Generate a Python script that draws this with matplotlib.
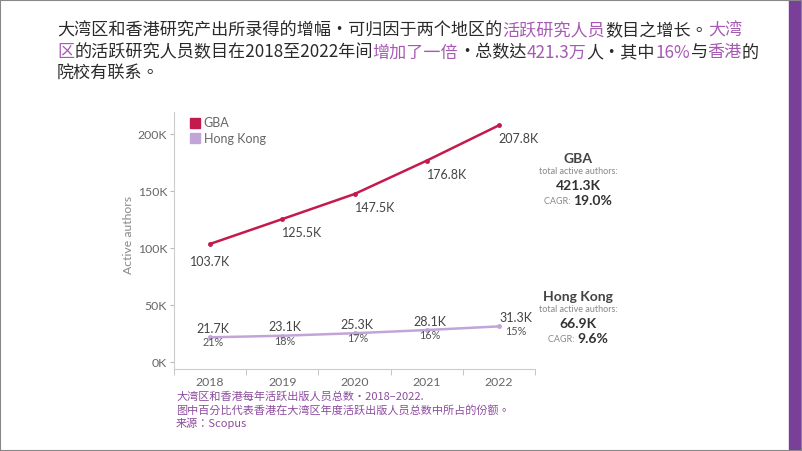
import matplotlib
matplotlib.use("Agg")
import matplotlib.pyplot as plt
from matplotlib.patches import Rectangle
from matplotlib.lines import Line2D

# active authors per year (thousands)
years = ["2018", "2019", "2020", "2021", "2022"]
gba = [103.7, 125.5, 147.5, 176.8, 207.8]
hk = [21.7, 23.1, 25.3, 28.1, 31.3]
hk_share = ["21%", "18%", "17%", "16%", "15%"]
yticks = [0, 50, 100, 150, 200]

GBA_C = "#c41a4e"
HK_C = "#c2a5d8"
HI = "#a75ab4"
DARK = "#2a2a2a"
GREY = "#666666"
NOTE = "#8d4c9f"

cjk = ["Noto Sans CJK TC", "DejaVu Sans"]
lat = ["Lato", "DejaVu Sans"]

fig = plt.figure(figsize=(8.02, 4.51), dpi=100)
W, H = 802, 451

# heading, mixed colours
heading = [
    [("大湾区和香港研究产出所录得的增幅·可归因于两个地区的", DARK), ("活跃研究人员", HI),
     ("数目之增长。", DARK), ("大湾", HI)],
    [("区", HI), ("的活跃研究人员数目在2018至2022年间", DARK), ("增加了一倍", HI),
     ("·总数达", DARK), ("421.3万", HI), ("人·其中", DARK), ("16%", HI), ("与", DARK),
     ("香港", HI), ("的", DARK)],
    [("院校有联系。", DARK)],
]
renderer = fig.canvas.get_renderer()
for i, parts in enumerate(heading):
    x = 57 / W
    y = 1 - (31 + i * 21.5) / H
    for s, c in parts:
        t = fig.text(x, y, s, color=c, fontsize=12.3, family=cjk, va="center", ha="left")
        bb = t.get_window_extent(renderer)
        x += bb.width / W

ax = fig.add_axes([174 / W, 1 - 369 / H, (535 - 174) / W, (369 - 112) / H])
xs = range(len(years))
ax.plot(xs, gba, color=GBA_C, lw=1.8, marker="o", ms=2.5)
ax.plot(xs, hk, color=HK_C, lw=1.8, marker="o", ms=2.5)

ax.set_xlim(-0.5, 4.5)
ax.set_ylim(-6.1, 219.5)
ax.set_yticks(yticks)
ax.set_yticklabels([f"{v}K" for v in yticks], family=lat, fontsize=8.8, color=GREY)
ax.set_xticks(list(xs))
ax.set_xticklabels(years, family=lat, fontsize=8.8, color=GREY)
ax.set_xticks([i + 0.5 for i in range(-1, 5)], minor=True)
ax.tick_params(axis="x", which="major", length=0, pad=6)
ax.tick_params(axis="x", which="minor", length=4, color="#bbbbbb", direction="out")
ax.tick_params(axis="y", length=3, color="#bbbbbb", pad=2)
for s in ["top", "right"]:
    ax.spines[s].set_visible(False)
for s in ["left", "bottom"]:
    ax.spines[s].set_color("#cccccc")
ax.set_ylabel("Active authors", family=lat, fontsize=8.8, color="#888888", labelpad=5)
ax.yaxis.set_label_coords(-0.11, 0.52)

# GBA labels
for i, v in enumerate(gba):
    if i == 0:
        ax.annotate(f"{v}K", (i, v), xytext=(0, -13), textcoords="offset points",
                    ha="center", va="center", family=lat, fontsize=9, color="#444444")
    else:
        ax.annotate(f"{v}K", (i, v), xytext=(0, -10), textcoords="offset points",
                    ha="left", va="center", family=lat, fontsize=9, color="#444444")
# HK labels
for i, (v, p) in enumerate(zip(hk, hk_share)):
    dx = 12 if i == 4 else 2
    ax.annotate(f"{v}K", (i, v), xytext=(dx, 6), textcoords="offset points",
                ha="center", va="center", family=lat, fontsize=9, color="#444444")
    ax.annotate(p, (i, v), xytext=(dx, -4), textcoords="offset points",
                ha="center", va="center", family=lat, fontsize=7.8, color="#555555")

# legend
handles = [Line2D([], [], ls="none", marker="s", ms=7, color=GBA_C),
           Line2D([], [], ls="none", marker="s", ms=7, color=HK_C)]
leg = ax.legend(handles, ["GBA", "Hong Kong"], loc="upper left", bbox_to_anchor=(0.02, 1.01),
                frameon=False, handletextpad=0.2, labelspacing=0.3, borderaxespad=0.2,
                handlelength=1.0, prop={"family": lat, "size": 9})
for t in leg.get_texts():
    t.set_color(GREY)

# side summaries
cx = 578 / W
def side(y0, name, total, cagr):
    fig.text(cx, 1 - y0 / H, name, ha="center", va="center", family=lat, fontsize=10,
             fontweight="bold", color="#444444")
    fig.text(cx, 1 - (y0 + 13) / H, "total active authors:", ha="center", va="center",
             family=lat, fontsize=6.5, color="#888888")
    fig.text(cx, 1 - (y0 + 27) / H, total, ha="center", va="center", family=lat, fontsize=10,
             fontweight="bold", color="#333333")
    t1 = fig.text(cx, 1 - (y0 + 42) / H, "CAGR: ", ha="right", va="center", family=lat,
                  fontsize=6.5, color="#888888")
    t2 = fig.text(cx, 1 - (y0 + 42) / H, cagr, ha="left", va="center", family=lat,
                  fontsize=10, fontweight="bold", color="#333333")
    w1 = t1.get_window_extent(renderer).width
    w2 = t2.get_window_extent(renderer).width
    shift = (w1 - w2) / 2 / W
    t1.set_x(cx + shift)
    t2.set_x(cx + shift)

side(159, "GBA", "421.3K", "19.0%")
side(297, "Hong Kong", "66.9K", "9.6%")

# footnote
fig.text(176 / W, 1 - 397 / H, "大湾区和香港每年活跃出版人员总数·2018–2022.", family=cjk,
         fontsize=8, color=NOTE, va="center")
fig.text(176 / W, 1 - 410 / H, "图中百分比代表香港在大湾区年度活跃出版人员总数中所占的份额。", family=cjk,
         fontsize=8, color=NOTE, va="center")
fig.text(176 / W, 1 - 423 / H, "来源：Scopus", family=cjk, fontsize=8, color=NOTE,
         va="center", style="italic")

# right purple bar and frame
fig.patches.append(Rectangle((789 / W, 0), 11 / W, 1, transform=fig.transFigure,
                             color="#7a3f98", zorder=0))
fig.patches.append(Rectangle((0, 0), 1, 1, transform=fig.transFigure, fill=False,
                             edgecolor="#888888", lw=1.5))

fig.savefig("out.png", dpi=100)
